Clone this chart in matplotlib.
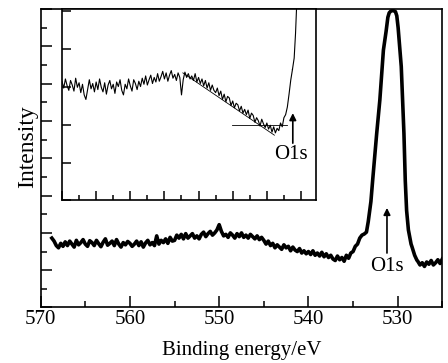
import matplotlib
matplotlib.use("Agg")
from matplotlib import pyplot as plt
from matplotlib.ticker import MultipleLocator
import numpy as np

plt.rcParams['font.family'] = ['Liberation Serif', 'DejaVu Serif']

# main spectrum: baseline sampled every 0.25 eV from 568.75 eV down to 534.25 eV
base_int = [1.86, 1.78, 1.66,
            1.60, 1.72, 1.64, 1.76,  1.66, 1.78, 1.70, 1.62,  1.80, 1.68, 1.74, 1.82,
            1.70, 1.64, 1.79, 1.74,  1.66, 1.80, 1.71, 1.63,  1.75, 1.84, 1.67, 1.72,
            1.78, 1.66, 1.82, 1.70,  1.62, 1.74, 1.68, 1.77,  1.72, 1.64, 1.70, 1.78,
            1.66, 1.76, 1.62, 1.73,  1.80, 1.68, 1.74, 1.66,  1.92, 1.70, 1.80, 1.74,
            1.84, 1.72, 1.88, 1.78,  1.80, 1.94, 1.86, 1.96,  1.84, 1.98, 1.86, 1.92,
            1.98, 1.86, 1.92, 1.84,  1.96, 2.02, 1.90, 1.98,  2.04, 1.94, 2.00, 2.08,
            2.22, 2.04, 1.92, 1.96,  1.88, 2.00, 1.94, 1.86,  1.98, 1.90, 2.00, 1.88,
            1.94, 1.86, 1.96, 1.90,  1.84, 1.92, 1.82, 1.88,  1.80, 1.70, 1.78, 1.66,
            1.72, 1.60, 1.68, 1.62,  1.56, 1.68, 1.60, 1.64,  1.52, 1.62, 1.54, 1.50,
            1.58, 1.46, 1.52, 1.44,  1.50, 1.42, 1.52, 1.40,  1.46, 1.38, 1.48, 1.36,
            1.44, 1.34, 1.40, 1.30,  1.26, 1.38, 1.28, 1.34,  1.24, 1.40, 1.32, 1.46,
            1.50, 1.64, 1.70, 1.86]
base_ev = np.linspace(568.75, 534.25, len(base_int))

# O1s peak region (read point by point)
peak_ev = [534.0, 533.75, 533.5, 533.3, 533.0, 532.8, 532.35, 532.0, 531.6, 531.3,
           531.1, 530.95, 530.75, 530.5, 530.25, 530.1, 529.95, 529.8, 529.6, 529.3,
           529.15, 529.0, 528.8, 528.5, 528.4, 528.1, 527.85]
peak_int = [1.94, 1.97, 2.02, 2.30, 2.84, 3.42, 4.67, 5.56, 6.90, 7.40,
            7.78, 7.90, 7.95, 7.96, 7.93, 7.82, 7.50, 7.05, 6.46, 4.67,
            3.40, 2.60, 2.08, 1.70, 1.63, 1.40, 1.27]

# high-energy-side tail, every 0.25 eV from 527.75 eV to 525.0 eV
tail_int = [1.24, 1.14, 1.20, 1.10, 1.22, 1.16, 1.26, 1.14, 1.20, 1.28, 1.18, 1.30]
tail_ev = np.linspace(527.75, 525.0, len(tail_int))

# inset: magnified pre-edge region, every 0.25 eV from 570 eV to 536.25 eV
inset_int = [3.14, 2.96, 3.20, 3.02,  2.90, 3.16, 3.04, 2.88,  3.22, 2.98, 3.10, 2.84,
             3.06, 2.78, 2.66, 2.92,  3.18, 2.94, 3.08, 2.86,  3.12, 2.92, 3.20, 2.98,
             2.86, 3.10, 2.80, 3.04,  3.16, 2.94, 3.06, 2.82,  3.12, 3.00, 3.18, 2.90,
             2.78, 3.06, 2.94, 3.20,  3.02, 2.88, 3.18, 3.08,  2.92, 3.14, 3.00, 3.22,
             3.06, 3.28, 3.04, 3.18,  3.30, 3.08, 3.24, 3.12,  3.34, 3.14, 3.26, 3.40,
             3.20, 3.36, 3.14, 3.30,  3.42, 3.22, 3.32, 3.16,  3.36, 3.24, 2.78, 3.18,
             3.38, 3.24, 3.34, 3.20,  3.28, 3.16, 3.34, 3.12,  3.24, 3.08, 3.20, 3.02,
             3.16, 2.96, 3.10, 2.90,  3.04, 2.90, 2.84, 2.96,  2.76, 2.88, 2.66, 2.80,
             2.60, 2.74, 2.70, 2.50,  2.62, 2.44, 2.56, 2.52,  2.36, 2.48, 2.30, 2.40,
             2.26, 2.38, 2.16, 2.30,  2.24, 2.06, 2.18, 2.10,  1.96, 2.14, 2.02, 1.92,
             2.04, 1.88, 1.98, 1.80,  1.94, 1.78, 1.90, 1.84,  2.04, 1.94, 2.18, 2.26,
             2.46, 2.80, 3.17, 3.45]
inset_ev = np.linspace(570.0, 536.25, len(inset_int))
rise_ev = [536.25, 536.0, 535.8, 535.6]
rise_int = [3.45, 3.75, 4.40, 5.30]

# baseline construction lines in the inset
slope_ev = [552.3, 538.9]
slope_int = [3.36, 1.72]
flat_ev = [545.1, 537.1]
flat_int = [1.99, 1.99]

main_ev = np.concatenate([base_ev, peak_ev, tail_ev])
main_int = np.concatenate([base_int, peak_int, tail_int])

fig = plt.figure(figsize=(4.48, 3.63), dpi=100)
ax = fig.add_axes([0.0908, 0.1529, 0.8965, 0.8221])
ax.plot(main_ev, main_int, color='black', lw=2.6, solid_joinstyle='round')
ax.set_xlim(570, 525)
ax.set_ylim(0, 8)
ax.xaxis.set_major_locator(MultipleLocator(10))
ax.xaxis.set_minor_locator(MultipleLocator(5))
ax.yaxis.set_major_locator(MultipleLocator(1))
ax.yaxis.set_minor_locator(MultipleLocator(0.5))
ax.tick_params(which='both', direction='in', top=False, right=False, width=1.1,
               labelsize=15, pad=1.5)
ax.tick_params(which='major', length=8)
ax.tick_params(which='minor', length=4.5)
ax.tick_params(axis='y', labelleft=False)
for s in ax.spines.values():
    s.set_linewidth(1.2)
ax.set_xlabel('Binding energy/eV', fontsize=15, labelpad=9)
ax.set_ylabel('Intensity', fontsize=17, labelpad=0)
ax.yaxis.label.set_y(0.538)
ax.annotate('', xy=(531.2, 2.67), xytext=(531.2, 1.46),
            arrowprops=dict(arrowstyle='-|>', color='black', lw=1.2,
                            mutation_scale=10, shrinkA=0, shrinkB=0))
ax.text(531.25, 1.11, 'O1s', fontsize=15, ha='center', va='center')

ins = fig.add_axes([0.1384, 0.4477, 0.567, 0.5273])
ins.plot(inset_ev, inset_int, color='black', lw=0.8)
ins.plot(rise_ev, rise_int, color='black', lw=0.8)
ins.plot(slope_ev, slope_int, color='black', lw=0.6)
ins.plot(flat_ev, flat_int, color='black', lw=0.6)
ins.set_xlim(570, 532.8)
ins.set_ylim(0, 5.04)
ins.xaxis.set_major_locator(MultipleLocator(5))
ins.xaxis.set_minor_locator(MultipleLocator(2.5))
ins.yaxis.set_major_locator(MultipleLocator(1))
ins.tick_params(which='both', direction='in', top=False, right=False, width=1.1,
                labelbottom=False, labelleft=False)
ins.tick_params(which='major', length=6.5)
ins.tick_params(which='minor', length=3.8)
for s in ins.spines.values():
    s.set_linewidth(1.2)
ins.annotate('', xy=(536.2, 2.30), xytext=(536.2, 1.51),
             arrowprops=dict(arrowstyle='-|>', color='black', lw=1.2,
                             mutation_scale=10, shrinkA=0, shrinkB=0))
ins.text(536.4, 1.2, 'O1s', fontsize=15, ha='center', va='center')

fig.savefig('out.png', dpi=100)
